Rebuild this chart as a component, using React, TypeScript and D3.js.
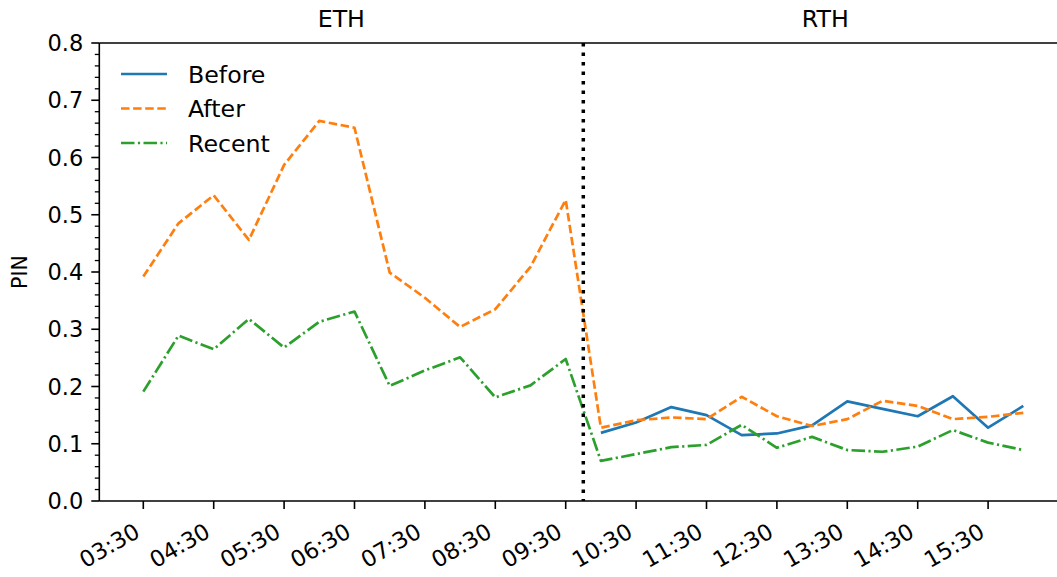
import React from 'react';
import * as d3 from 'd3';

// half-hour buckets, ETH session then RTH session
const times = [
  '03:30', '04:00', '04:30', '05:00', '05:30', '06:00', '06:30',
  '07:00', '07:30', '08:00', '08:30', '09:00', '09:30',
  '10:00', '10:30', '11:00', '11:30', '12:00', '12:30', '13:00',
  '13:30', '14:00', '14:30', '15:00', '15:30', '16:00',
];

const before: (number | null)[] = [
  null, null, null, null, null, null, null, null, null, null, null, null, null,
  0.119, 0.137, 0.164, 0.150, 0.115, 0.118, 0.132, 0.174, 0.161, 0.148, 0.183, 0.128, 0.166,
];
const after = [
  0.392, 0.485, 0.534, 0.456, 0.587, 0.664, 0.652, 0.399, 0.355, 0.304, 0.335, 0.409, 0.526,
  0.128, 0.141, 0.146, 0.143, 0.182, 0.148, 0.131, 0.143, 0.175, 0.166, 0.143, 0.147, 0.154,
];
const recent = [
  0.191, 0.289, 0.265, 0.318, 0.268, 0.313, 0.331, 0.201, 0.228, 0.251, 0.181, 0.202, 0.248,
  0.070, 0.082, 0.094, 0.098, 0.133, 0.093, 0.112, 0.089, 0.086, 0.095, 0.124, 0.102, 0.089,
];

const xTickLabels = [
  '03:30', '04:30', '05:30', '06:30', '07:30', '08:30', '09:30',
  '10:30', '11:30', '12:30', '13:30', '14:30', '15:30',
];
const yTicks = [0, 0.1, 0.2, 0.3, 0.4, 0.5, 0.6, 0.7, 0.8];
const sessionSplit = '09:45';
const sessions = [
  { name: 'ETH', from: 'start' },
  { name: 'RTH', from: 'split' },
];

const series = [
  { name: 'Before', values: before, color: '#1f77b4', dash: 'none' },
  { name: 'After', values: after, color: '#ff7f0e', dash: '8.5 3.6' },
  { name: 'Recent', values: recent, color: '#2ca02c', dash: '13.5 3.4 2.2 3.4' },
];

const toHours = (s: string) => {
  const [h, m] = s.split(':').map(Number);
  return h + m / 60;
};

const W = 1057;
const H = 577;
const font = 'DejaVu Sans, sans-serif';
const tickFont = 22.5;
const bigFont = 23.7;

export default function App() {
  const first = toHours(times[0]);
  const last = toHours(times[times.length - 1]);
  const pad = (last - first) * 0.05;

  const x = d3.scaleLinear().domain([first - pad, last + pad]).range([99.3, 1067.3]);
  const y = d3.scaleLinear().domain([0, 0.8]).range([501, 43]);

  const left = x.range()[0];
  const right = x.range()[1];
  const top = y.range()[1];
  const bottom = y.range()[0];
  const splitX = x(toHours(sessionSplit));

  const minorTicks = d3.range(0, 0.8001, 0.02).filter(v => Math.abs(v * 10 - Math.round(v * 10)) > 1e-6);

  const mkLine = (vals: (number | null)[]) =>
    d3.line<number | null>()
      .defined(v => v !== null)
      .x((_, i) => x(toHours(times[i])))
      .y(v => y(v as number))(vals) || '';

  return (
    <svg width={W} height={H} style={{ position: 'absolute', left: 0, top: 0, background: '#fff' }}
      fontFamily={font}>
      {/* series */}
      {series.map(s => (
        <path key={s.name} d={mkLine(s.values)} fill="none" stroke={s.color}
          strokeWidth={2.7} strokeDasharray={s.dash} strokeLinejoin="round" />
      ))}

      {/* session split */}
      <line x1={splitX} x2={splitX} y1={top} y2={bottom} stroke="#000"
        strokeWidth={3.5} strokeDasharray="3.5 6" />

      {/* spines */}
      <line x1={left} x2={right} y1={top} y2={top} stroke="#000" strokeWidth={1.6} />
      <line x1={left} x2={right} y1={bottom} y2={bottom} stroke="#000" strokeWidth={1.6} />
      <line x1={left} x2={left} y1={top} y2={bottom} stroke="#000" strokeWidth={1.6} />

      {/* y ticks */}
      {minorTicks.map(v => (
        <line key={'m' + v} x1={left - 4.5} x2={left} y1={y(v)} y2={y(v)} stroke="#000" strokeWidth={1.3} />
      ))}
      {yTicks.map(v => (
        <g key={'y' + v}>
          <line x1={left - 8} x2={left} y1={y(v)} y2={y(v)} stroke="#000" strokeWidth={1.6} />
          <text x={left - 16} y={y(v)} dy="0.36em" textAnchor="end" fontSize={tickFont}>{v.toFixed(1)}</text>
        </g>
      ))}

      {/* x ticks */}
      {xTickLabels.map(t => {
        const tx = x(toHours(t));
        return (
          <g key={t}>
            <line x1={tx} x2={tx} y1={bottom} y2={bottom + 8} stroke="#000" strokeWidth={1.6} />
            <text transform={`translate(${tx - 2},${bottom + 35}) rotate(-30)`} textAnchor="end"
              fontSize={tickFont}>{t}</text>
          </g>
        );
      })}

      {/* y label */}
      <text transform={`translate(27,${(top + bottom) / 2}) rotate(-90)`} textAnchor="middle"
        fontSize={20.5}>PIN</text>

      {/* session titles */}
      {sessions.map(s => {
        const x0 = s.from === 'start' ? left : splitX;
        const x1 = s.from === 'start' ? splitX : right;
        return (
          <text key={s.name} x={(x0 + x1) / 2} y={26.7} textAnchor="middle" fontSize={bigFont}>{s.name}</text>
        );
      })}

      {/* legend */}
      {series.map((s, i) => {
        const ly = 74 + i * 34.5;
        return (
          <g key={'l' + s.name}>
            <line x1={121} x2={167} y1={ly} y2={ly} stroke={s.color} strokeWidth={2.7}
              strokeDasharray={s.dash} />
            <text x={188} y={ly} dy="0.36em" fontSize={bigFont}>{s.name}</text>
          </g>
        );
      })}
    </svg>
  );
}
